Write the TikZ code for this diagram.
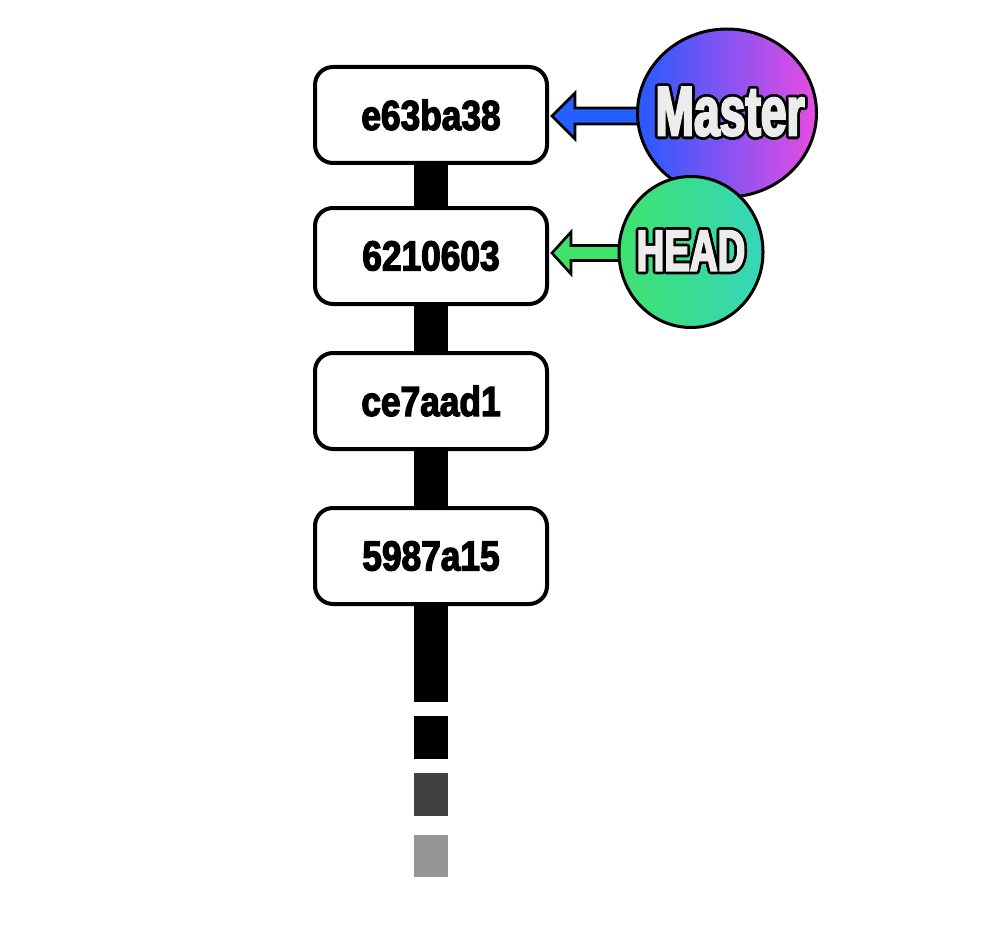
\documentclass[tikz,border=0pt]{standalone}
\usepackage{fontspec}
\usepackage{contour}
\usetikzlibrary{shapes.geometric,backgrounds,calc}
\newfontfamily\commitfont{Liberation Sans}[FakeStretch=0.84, BoldFeatures={FakeBold=3}]
\newfontfamily\tagfont{Liberation Sans}[FakeStretch=0.66, BoldFeatures={FakeBold=3}]
\definecolor{mblue}{RGB}{36,96,255}
\definecolor{mleft}{RGB}{38,90,255}
\definecolor{mmid}{RGB}{104,80,238}
\definecolor{mright}{RGB}{232,76,226}
\definecolor{hgreen}{RGB}{62,226,104}
\definecolor{hleft}{RGB}{62,226,110}
\definecolor{hright}{RGB}{54,214,186}
\definecolor{tagtext}{RGB}{236,236,236}
\definecolor{dashA}{RGB}{64,64,64}
\definecolor{dashB}{RGB}{150,150,150}
\contourlength{2.6pt}
\contournumber{24}
\tikzset{
  commit/.style={draw=black, line width=4pt, rounded corners=18pt, fill=white,
    minimum width=232pt, minimum height=96pt, inner sep=0pt,
    font=\commitfont\bfseries\fontsize{42}{42}\selectfont},
  trunk/.style={line width=34pt, black},
  tagarrow/.style={draw=black, line width=2.6pt, line join=miter},
  tagblob/.style={ellipse, draw=black, line width=3pt, inner sep=0pt},
  tagname/.style={text=tagtext, inner sep=0pt},
}
\begin{document}
\begin{tikzpicture}[x=1pt,y=-1pt]
\useasboundingbox (0,0) rectangle (1000,936);
% commits
\node[commit] (c1) at (431,115) {e63ba38};
\node[commit] (c2) at (431,256) {6210603};
\node[commit] (c3) at (431,401) {ce7aad1};
\node[commit] (c4) at (431,556) {5987a15};
\coordinate (t0) at (431,702);
\begin{scope}[on background layer]
  \fill[white] (0,0) rectangle (1000,936);
  \draw[trunk] (c1) -- (c2) -- (c3) -- (c4) -- (t0);
\end{scope}
% fading history
\fill[black] (414,716) rectangle (448,759);
\fill[dashA] (414,773) rectangle (448,816);
\fill[dashB] (414,835) rectangle (448,877);
% Master pointer
\draw[tagarrow, fill=mblue] ($(c1.east)+(3,1)$) coordinate (tm)
  -- ++(23,-23) -- ++(0,15) -- ++(80,0) -- ++(0,16) -- ++(-80,0) -- ++(0,15) -- cycle;
\node[tagblob, minimum width=179pt, minimum height=168pt,
  left color=mleft, middle color=mmid, right color=mright] (m) at (727,113) {};
% HEAD pointer
\draw[tagarrow, fill=hgreen] ($(c2.east)+(3,-3)$) coordinate (th)
  -- ++(19,-21) -- ++(0,13.5) -- ++(72,0) -- ++(0,15) -- ++(-72,0) -- ++(0,13.5) -- cycle;
\node[tagblob, minimum width=144pt, minimum height=151pt,
  left color=hleft, right color=hright] (h) at (691,252) {};
% labels
\node[tagname, font=\tagfont\bfseries\fontsize{70}{70}\selectfont] (ml) at (730,113) {\contour{black}{Master}};
\node[tagname, font=\tagfont\bfseries\fontsize{58}{58}\selectfont] (hl) at (691,252) {\contour{black}{HEAD}};
\end{tikzpicture}
\end{document}
